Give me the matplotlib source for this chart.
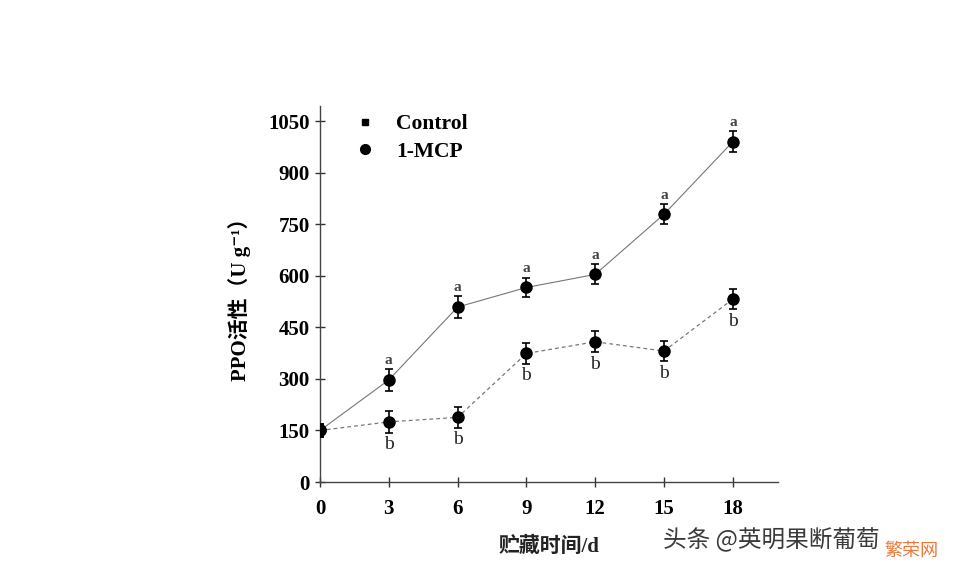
import matplotlib
matplotlib.use("Agg")
import matplotlib.pyplot as plt
from matplotlib.lines import Line2D

days = [0, 3, 6, 9, 12, 15, 18]
control = [150, 297, 509, 566, 604, 779, 990]
control_err = [20, 31, 32, 29, 29, 29, 31]
mcp = [150, 175, 188, 374, 408, 381, 532]
mcp_err = [20, 32, 30, 30, 30, 30, 30]
control_letters = ["", "a", "a", "a", "a", "a", "a"]
mcp_letters = ["", "b", "b", "b", "b", "b", "b"]
yticks = [0, 150, 300, 450, 600, 750, 900, 1050]
xticks = [0, 3, 6, 9, 12, 15, 18]

serif = ["Liberation Serif", "Noto Sans CJK SC", "DejaVu Sans"]

fig = plt.figure(figsize=(9.54, 5.68), dpi=100)
ax = fig.add_axes([320/954, 1-482/568, (778-320)/954, (482-106)/568])

ax.plot(days, control, color="#777777", lw=0.8, ls="-", zorder=1)
ax.plot(days, mcp, color="#777777", lw=0.9, ls=(0, (3, 2.5)), zorder=1)
ax.errorbar(days, control, yerr=control_err, fmt="o", color="black", ms=8,
            capsize=3, elinewidth=1.2, capthick=1.2, zorder=3)
ax.errorbar(days, mcp, yerr=mcp_err, fmt="o", color="black", ms=8,
            capsize=3, elinewidth=1.2, capthick=1.2, zorder=3)

for x, y, e, t in zip(days, control, control_err, control_letters):
    if t:
        ax.text(x, y + e + 6, t, ha="center", va="bottom", fontsize=11,
                family=serif, fontweight="bold", color="#444444")
for x, y, e, t in zip(days, mcp, mcp_err, mcp_letters):
    if t:
        ax.text(x, y - e - 10, t, ha="center", va="top", fontsize=14,
                family=serif, color="#222222")

ax.set_xlim(0, 19.97)
ax.set_ylim(0, 1094)
ax.set_xticks(xticks)
ax.set_yticks(yticks)
ax.set_xticklabels([str(v) for v in xticks], family=serif, fontsize=15, fontweight="bold")
ax.set_yticklabels([str(v) for v in yticks], family=serif, fontsize=15, fontweight="bold")
ax.tick_params(axis="both", direction="inout", length=7, width=1, color="#333333", pad=4)
ax.tick_params(axis="x", pad=9)
for s in ["top", "right"]:
    ax.spines[s].set_visible(False)
for s in ["left", "bottom"]:
    ax.spines[s].set_color("#444444")
    ax.spines[s].set_linewidth(1)

ax.set_ylabel("PPO活性（U g⁻¹）", family=serif, fontsize=15, fontweight="bold", labelpad=12)
ax.set_xlabel("贮藏时间/d", family=serif, fontsize=15, fontweight="bold", color="#222222")
ax.xaxis.set_label_coords(0.5, -0.145)

handles = [Line2D([], [], marker="s", ls="none", color="black", ms=5),
           Line2D([], [], marker="o", ls="none", color="black", ms=7)]
leg = ax.legend(handles, ["Control", "1-MCP"], loc="upper left",
                bbox_to_anchor=(0.02, 1.03), frameon=False, handletextpad=0.7,
                handlelength=1.5, labelspacing=0.35,
                prop={"family": serif, "size": 15.5, "weight": "bold"})

fig.text(663/954, 1-540/568, "头条 @英明果断葡萄", family=["Noto Sans CJK SC"],
         fontsize=17, color="#3a3a3a", ha="left", va="center")
fig.text(938/954, 1-551/568, "繁荣网", family=["Noto Sans CJK SC"],
         fontsize=13, color="#e8793a", ha="right", va="center")

fig.savefig("out.png", dpi=100)
